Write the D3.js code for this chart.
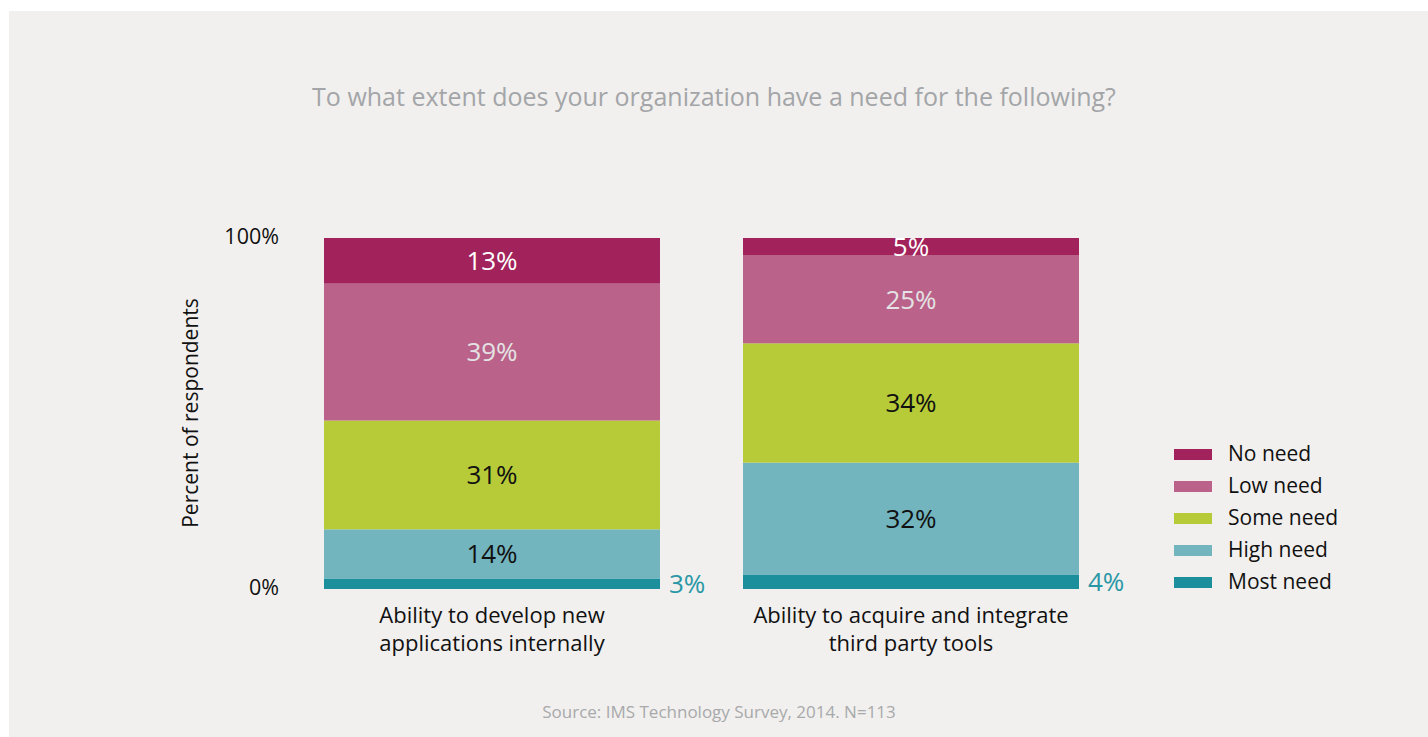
<!DOCTYPE html>
<html>
<head>
<meta charset="utf-8">
<script src="https://cdn.jsdelivr.net/npm/d3@7"></script>
<style>
  html, body { margin: 0; padding: 0; background: #ffffff; }
  svg { display: block; }
  text { font-family: "Open Sans", "Noto Sans", sans-serif; }
</style>
</head>
<body>
<svg id="chart" width="1428" height="737"></svg>
<script>
// Survey question and categories
const title = "To what extent does your organization have a need for the following?";
const source = "Source: IMS Technology Survey, 2014. N=113";
const categories = [
  ["Ability to develop new", "applications internally"],
  ["Ability to acquire and integrate", "third party tools"]
];
// Response levels, bottom of stack first
const levels = ["Most need", "High need", "Some need", "Low need", "No need"];
// Percent of respondents per level, one value per category
const mostNeed = [3, 4];
const highNeed = [14, 32];
const someNeed = [31, 34];
const lowNeed = [39, 25];
const noNeed = [13, 5];
const yTicks = [0, 100];

const seriesValues = [mostNeed, highNeed, someNeed, lowNeed, noNeed];
const fills = ["#1c8f9d", "#73b5bf", "#b6cb37", "#ba6289", "#a2225b"];
const labelColors = ["#2a97a6", "#111111", "#111111", "#e4e2e4", "#ffffff"];

const svg = d3.select("#chart");

// Panel background
svg.append("rect").attr("x", 9).attr("y", 11).attr("width", 1428 - 9).attr("height", 737 - 11)
  .attr("fill", "#f1f0ee");

// Build stacked rows
const rows = categories.map((c, i) => {
  const r = { key: i };
  levels.forEach((l, j) => { r[l] = seriesValues[j][i]; });
  return r;
});
const stacked = d3.stack().keys(levels)(rows);

const x = d3.scaleBand().domain(d3.range(categories.length)).range([324, 1079])
  .paddingInner(83 / 419).paddingOuter(0);
const y = d3.scaleLinear().domain([0, 100]).range([589, 238]);

// Title
svg.append("text").attr("x", 714).attr("y", 106).attr("text-anchor", "middle")
  .attr("fill", "#a3a5a8").attr("font-size", 25).text(title);

// Y axis tick labels
const yAxis = svg.append("g").attr("transform", `translate(${x.range()[0]},0)`)
  .call(d3.axisLeft(y).tickValues(yTicks).tickSize(0).tickPadding(45).tickFormat(d => d + "%"));
yAxis.select(".domain").remove();
yAxis.selectAll("text").attr("font-family", "'Open Sans', sans-serif")
  .attr("font-size", 21.5).attr("fill", "#111111").attr("dy", "0.25em");

// Y axis title
svg.append("text").attr("transform", "translate(198,413) rotate(-90)")
  .attr("text-anchor", "middle").attr("font-size", 21).attr("fill", "#111111")
  .text("Percent of respondents");

// Stacked bars
const layer = svg.append("g").selectAll("g").data(stacked).join("g")
  .attr("fill", (d, i) => fills[i]);
layer.selectAll("rect").data(d => d).join("rect")
  .attr("x", (d, i) => x(i))
  .attr("width", x.bandwidth())
  .attr("y", d => y(d[1]))
  .attr("height", d => y(d[0]) - y(d[1]));

// Value labels: inside the segment, or beside the bar when the segment is thin
stacked.forEach((s, si) => {
  s.forEach((d, i) => {
    const v = d[1] - d[0];
    const inside = v >= 5;
    svg.append("text")
      .attr("x", inside ? x(i) + x.bandwidth() / 2 : x(i) + x.bandwidth() + 9)
      .attr("y", (y(d[0]) + y(d[1])) / 2)
      .attr("dy", "0.36em")
      .attr("text-anchor", inside ? "middle" : "start")
      .attr("font-size", 26)
      .attr("fill", labelColors[si])
      .text(v + "%");
  });
});

// Category labels
categories.forEach((lines, i) => {
  const t = svg.append("text").attr("text-anchor", "middle").attr("font-size", 22).attr("fill", "#111111");
  lines.forEach((ln, k) => {
    t.append("tspan").attr("x", x(i) + x.bandwidth() / 2).attr("y", 623 + k * 28).text(ln);
  });
});

// Legend, top entry first
const legendOrder = levels.slice().reverse();
const legend = svg.append("g").attr("transform", "translate(1174,449)");
legendOrder.forEach((l, k) => {
  const g = legend.append("g").attr("transform", `translate(0,${k * 32})`);
  g.append("rect").attr("width", 38).attr("height", 11).attr("fill", fills[levels.indexOf(l)]);
  g.append("text").attr("x", 54).attr("y", 12).attr("font-size", 21).attr("fill", "#111111").text(l);
});

// Source note
svg.append("text").attr("x", 719).attr("y", 718).attr("text-anchor", "middle")
  .attr("font-size", 17).attr("fill", "#a8a9ab").text(source);
</script>
</body>
</html>
